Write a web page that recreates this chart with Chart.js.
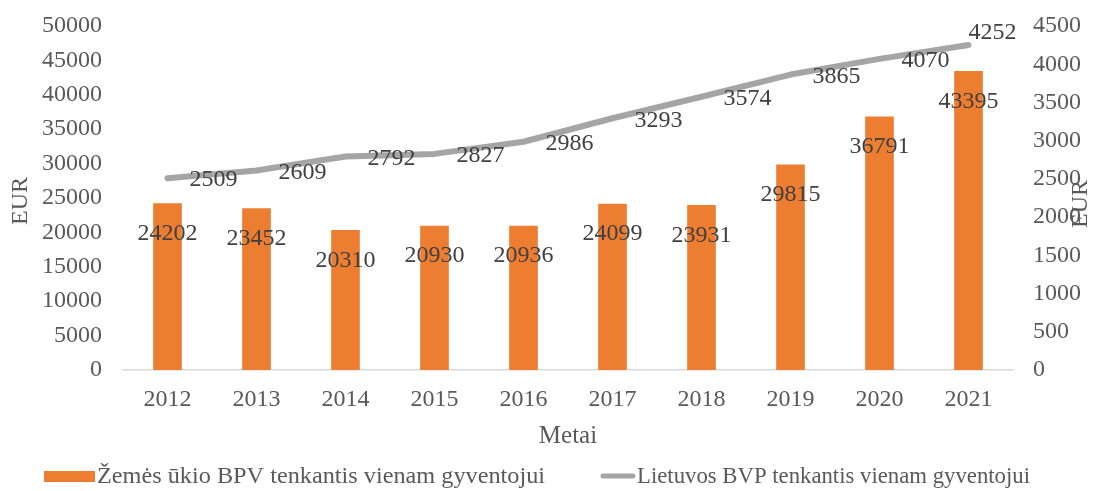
<!DOCTYPE html>
<html>
<head>
<meta charset="utf-8">
<script src="https://cdn.jsdelivr.net/npm/chart.js@4.4.0/dist/chart.umd.min.js"></script>
<style>
  html, body { margin: 0; padding: 0; background: #fff; }
</style>
</head>
<body>
<canvas id="chart" width="1094" height="491"></canvas>
<script>
const years = ['2012', '2013', '2014', '2015', '2016', '2017', '2018', '2019', '2020', '2021'];
const agriGva = [24202, 23452, 20310, 20930, 20936, 24099, 23931, 29815, 36791, 43395];
const ltGdp = [2509, 2609, 2792, 2827, 2986, 3293, 3574, 3865, 4070, 4252];
const barLabel = 'Žemės ūkio BPV tenkantis vienam gyventojui';
const lineLabel = 'Lietuvos BVP tenkantis vienam gyventojui';

const FONT = '"Liberation Serif", "Times New Roman", serif';
const ORANGE = '#ED7D31';
const GREY = '#A5A5A5';

// value labels, axis titles and legend, drawn the way the Excel original has them
const extras = {
  id: 'extras',
  afterDatasetsDraw(chart) {
    const ctx = chart.ctx;
    ctx.save();
    ctx.font = '24px ' + FONT;
    ctx.fillStyle = '#404040';
    ctx.textBaseline = 'middle';

    ctx.textAlign = 'center';
    chart.getDatasetMeta(0).data.forEach((el, i) => {
      ctx.fillText(String(agriGva[i]), el.x, el.y + 30);
    });

    ctx.textAlign = 'left';
    const pts = chart.getDatasetMeta(1).data;
    pts.forEach((el, i) => {
      if (i === pts.length - 1) ctx.fillText(String(ltGdp[i]), el.x, el.y - 12);
      else ctx.fillText(String(ltGdp[i]), el.x + 22, el.y + 2);
    });
    ctx.restore();
  },
  afterDraw(chart) {
    const ctx = chart.ctx;
    const area = chart.chartArea;
    ctx.save();
    ctx.font = '25px ' + FONT;
    ctx.fillStyle = '#595959';
    ctx.textBaseline = 'middle';
    ctx.textAlign = 'center';

    ctx.fillText('Metai', (area.left + area.right) / 2, 436);

    ctx.font = '24px ' + FONT;
    ctx.save();
    ctx.translate(21, 201);
    ctx.rotate(-Math.PI / 2);
    ctx.fillText('EUR', 0, 0);
    ctx.restore();

    ctx.save();
    ctx.translate(1081, 204);
    ctx.rotate(-Math.PI / 2);
    ctx.fillText('EUR', 0, 0);
    ctx.restore();

    // legend
    ctx.font = '23px ' + FONT;
    ctx.textAlign = 'left';
    ctx.fillStyle = ORANGE;
    ctx.fillRect(44, 471, 51, 11);
    ctx.fillStyle = '#595959';
    const w1 = ctx.measureText(barLabel).width;
    ctx.save();
    ctx.translate(97, 477);
    ctx.scale(448 / w1, 1);
    ctx.fillText(barLabel, 0, 0);
    ctx.restore();

    ctx.strokeStyle = GREY;
    ctx.lineWidth = 5;
    ctx.lineCap = 'round';
    ctx.beginPath();
    ctx.moveTo(603, 476);
    ctx.lineTo(633, 476);
    ctx.stroke();
    const w2 = ctx.measureText(lineLabel).width;
    ctx.save();
    ctx.translate(637, 477);
    ctx.scale(393 / w2, 1);
    ctx.fillText(lineLabel, 0, 0);
    ctx.restore();
    ctx.restore();
  }
};

const tickFont = { family: FONT, size: 24 };

// fixed box sizes so the plot area sits where the original has it
function fixY(width) {
  return s => {
    s.width = width;
    s.paddingTop = 0;
    s.paddingBottom = 0;
  };
}

new Chart(document.getElementById('chart'), {
  data: {
    labels: years,
    datasets: [
      {
        type: 'bar',
        label: barLabel,
        data: agriGva,
        backgroundColor: ORANGE,
        barThickness: 28,
        yAxisID: 'y',
        order: 1
      },
      {
        type: 'line',
        label: lineLabel,
        data: ltGdp,
        borderColor: GREY,
        borderWidth: 6,
        borderCapStyle: 'round',
        borderJoinStyle: 'round',
        pointRadius: 0,
        tension: 0,
        yAxisID: 'y1',
        order: 0
      }
    ]
  },
  options: {
    responsive: false,
    animation: false,
    devicePixelRatio: 1,
    layout: { padding: { top: 26, left: 0, right: 0, bottom: 0 } },
    plugins: { legend: { display: false }, tooltip: { enabled: false } },
    scales: {
      x: {
        offset: true,
        grid: { display: false, drawTicks: false },
        border: { display: true, color: '#D9D9D9', width: 1.5 },
        ticks: { font: tickFont, color: '#595959', padding: 15, maxRotation: 0 },
        afterFit(s) { s.height = 121; s.paddingLeft = 0; s.paddingRight = 0; }
      },
      y: {
        position: 'left',
        min: 0, max: 50000,
        grid: { display: false, drawTicks: false },
        border: { display: false },
        ticks: { stepSize: 5000, font: tickFont, color: '#595959', padding: 21, callback: v => String(v) },
        afterFit: fixY(123)
      },
      y1: {
        position: 'right',
        min: 0, max: 4500,
        grid: { display: false, drawTicks: false },
        border: { display: false },
        ticks: { stepSize: 500, font: tickFont, color: '#595959', padding: 20, callback: v => String(v) },
        afterFit: fixY(81)
      }
    }
  },
  plugins: [extras]
});
</script>
</body>
</html>
